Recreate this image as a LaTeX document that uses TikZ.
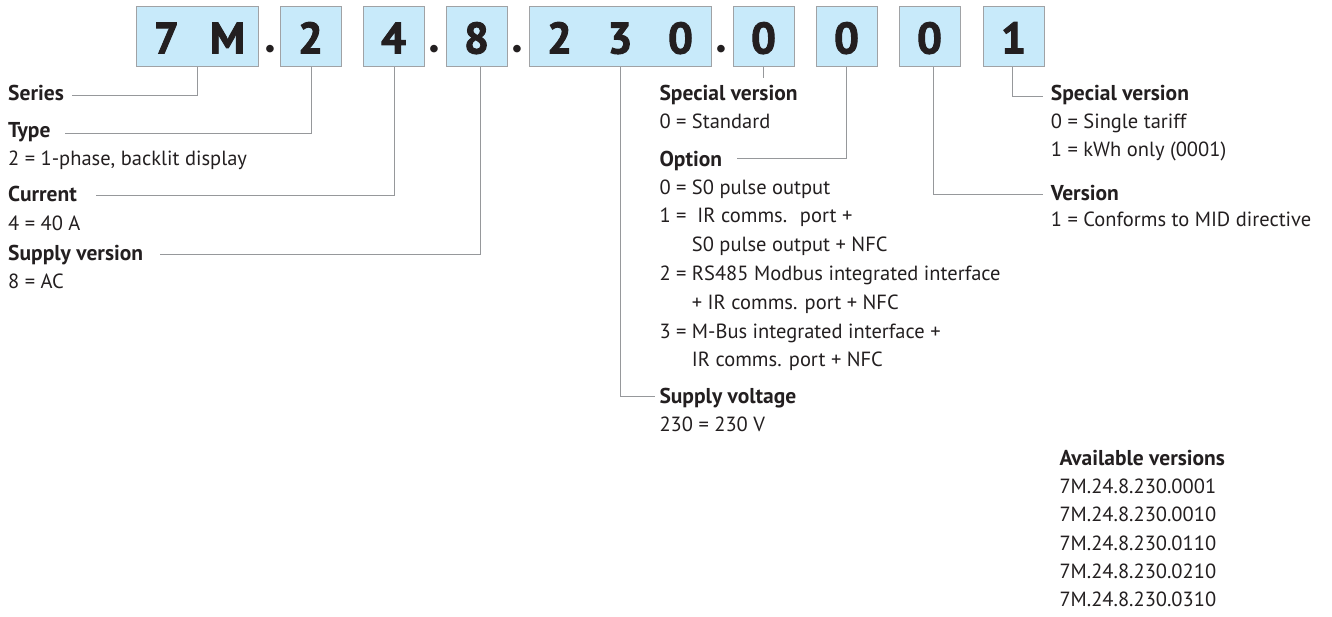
\documentclass[tikz,border=0pt]{standalone}
\usepackage{fontspec}
\setmainfont{PT Sans}
\newfontfamily\digitfont{PT Sans Bold}[FakeBold=2.2]
\newfontfamily\dotfont{Lato}
\definecolor{boxblue}{RGB}{200,234,250}
\definecolor{boxgray}{RGB}{160,162,165}
\definecolor{linegray}{RGB}{150,152,155}
\definecolor{ink}{RGB}{35,31,32}
\tikzset{
  cellbox/.style={draw=boxgray, fill=boxblue, line width=1pt, minimum height=60.5pt, inner sep=0pt, anchor=center},
  digit/.style={anchor=base, inner sep=0pt, text=ink, font=\fontsize{44}{44}\selectfont\digitfont},
  sepdot/.style={anchor=base, inner sep=0pt, text=ink, font=\fontsize{50}{50}\selectfont\dotfont\bfseries},
  hd/.style={anchor=base west, inner sep=0pt, text=ink, font=\fontsize{21.5}{25}\selectfont\bfseries},
  tx/.style={anchor=base west, inner sep=0pt, text=ink, font=\fontsize{20.5}{25}\selectfont},
  conn/.style={draw=linegray, line width=1pt}
}
\begin{document}
\begin{tikzpicture}[x=1pt,y=1pt]
\useasboundingbox (0,0) rectangle (1332,-616);
% boxes
\node[cellbox, minimum width=122pt] (b7M) at (197,-36.25) {};
\node[cellbox, minimum width=61pt] (b2) at (310.5,-36.25) {};
\node[cellbox, minimum width=61pt] (b4) at (393.5,-36.25) {};
\node[cellbox, minimum width=61pt] (b8) at (476.5,-36.25) {};
\node[cellbox, minimum width=182pt] (b230) at (620,-36.25) {};
\node[cellbox, minimum width=61pt] (bA) at (763.5,-36.25) {};
\node[cellbox, minimum width=61pt] (bB) at (846.5,-36.25) {};
\node[cellbox, minimum width=61pt] (bC) at (929.5,-36.25) {};
\node[cellbox, minimum width=61pt] (bD) at (1013.5,-36.25) {};
% digits
\node[digit] (d7) at (166.5,-53.5) {7};
\node[digit] (dM) at (227.5,-53.5) {M};
\node[digit] (d2) at (310.5,-53.5) {2};
\node[digit] (d4) at (393.5,-53.5) {4};
\node[digit] (d8) at (476.5,-53.5) {8};
\node[digit] (d230a) at (559.5,-53.5) {2};
\node[digit] (d230b) at (620,-53.5) {3};
\node[digit] (d230c) at (680.5,-53.5) {0};
\node[digit] (dA) at (763.5,-53.5) {0};
\node[digit] (dB) at (846.5,-53.5) {0};
\node[digit] (dC) at (929.5,-53.5) {0};
\node[digit] (dD) at (1013.5,-53.5) {1};
% dots
\node[sepdot] (p1) at (270,-52.5) {.};
\node[sepdot] (p2) at (434,-52.5) {.};
\node[sepdot] (p3) at (517.7,-52.5) {.};
\node[sepdot] (p4) at (721.7,-52.5) {.};
% left column
\node[hd] (series) at (8,-100.7) {Series};
\node[hd] (type) at (8,-137.3) {Type};
\node[tx] (typev) at (8,-165) {2 = 1-phase, backlit display};
\node[hd] (current) at (8,-201.7) {Current};
\node[tx] (currentv) at (8,-230) {4 = 40 A};
\node[hd] (supplyv) at (8,-260) {Supply version};
\node[tx] (supplyvv) at (8,-288) {8 = AC};
% middle column
\node[hd] (spec1) at (659.3,-100) {Special version};
\node[tx] (spec1v) at (659.3,-128) {0 = Standard};
\node[hd] (option) at (659.3,-166) {Option};
\node[tx] (opt0) at (659.3,-194) {0 = S0 pulse output};
\node[tx] (opt1) at (659.3,-222.7) {1 = \ IR comms. \ port +};
\node[tx] (opt1b) at (691.7,-251.7) {S0 pulse output + NFC};
\node[tx] (opt2) at (659.3,-280.7) {2 = RS485 Modbus integrated interface};
\node[tx] (opt2b) at (691.7,-309) {+ IR comms. port + NFC};
\node[tx] (opt3) at (659.3,-338) {3 = M-Bus integrated interface +};
\node[tx] (opt3b) at (691.7,-366.7) {IR comms. port + NFC};
\node[hd] (voltage) at (659.3,-403.3) {Supply voltage};
\node[tx] (voltagev) at (659.3,-431.7) {230 = 230 V};
% right column
\node[hd] (spec2) at (1050.7,-100) {Special version};
\node[tx] (spec2a) at (1050.7,-128) {0 = Single tariff};
\node[tx] (spec2b) at (1050.7,-156.7) {1 = kWh only (0001)};
\node[hd] (version) at (1050.7,-200) {Version};
\node[tx] (versionv) at (1050.7,-226.7) {1 = Conforms to MID directive};
% available versions
\node[hd] (avail) at (1059.3,-465) {Available versions};
\node[tx] (av1) at (1059.3,-493.3) {7M.24.8.230.0001};
\node[tx] (av2) at (1059.3,-521.7) {7M.24.8.230.0010};
\node[tx] (av3) at (1059.3,-550) {7M.24.8.230.0110};
\node[tx] (av4) at (1059.3,-578.3) {7M.24.8.230.0210};
\node[tx] (av5) at (1059.3,-606.7) {7M.24.8.230.0310};
% connector ends
\coordinate (eSeries) at (72.3,-95);
\coordinate (eType) at (65,-133.3);
\coordinate (eCurrent) at (96,-195.7);
\coordinate (eSupply) at (160,-254);
\coordinate (eSpec1) at (764,-78);
\coordinate (eOption) at (736.7,-158.3);
\coordinate (eVoltage) at (655,-396.7);
\coordinate (eSpec2) at (1043,-96);
\coordinate (eVersion) at (1043,-194.3);
% connectors
\draw[conn] (b7M.south) |- (eSeries);
\draw[conn] ([xshift=0.5pt]b2.south) |- (eType);
\draw[conn] ([xshift=0.5pt]b4.south) |- (eCurrent);
\draw[conn] ([xshift=3.8pt]b8.south) |- (eSupply);
\draw[conn] (bA.south) -- (bA.south |- eSpec1);
\draw[conn] (bB.south) |- (eOption);
\draw[conn] (b230.south) |- (eVoltage);
\draw[conn] ([xshift=-1.5pt]bD.south) |- (eSpec2);
\draw[conn] ([xshift=3.8pt]bC.south) |- (eVersion);
\end{tikzpicture}
\end{document}
